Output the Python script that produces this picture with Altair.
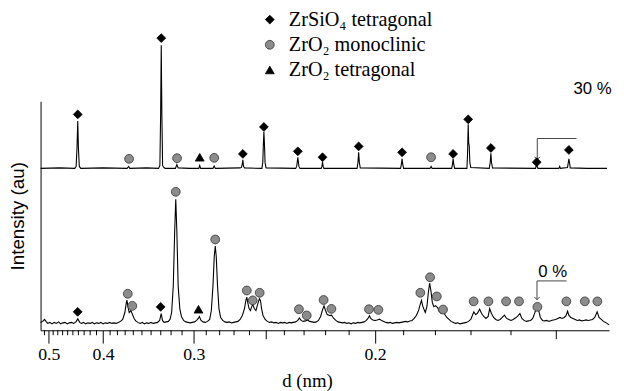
import altair as alt
import pandas as pd

# ---------------- data (x = 1/d in nm^-1, intensity in arbitrary units) -------------
# 0 % pattern (lower trace)
bottom_pattern = [
    (1.925, 8), (1.945, 9), (1.961, 11), (1.975, 9), (1.99, 7), (2.01, 8), (2.03, 6.5), (2.05, 8),
    (2.07, 7), (2.09, 8.5), (2.11, 6.5), (2.13, 7.5), (2.15, 8), (2.17, 6.5), (2.19, 7.5), (2.21, 8),
    (2.23, 7), (2.25, 8.5), (2.267, 11.5), (2.285, 8), (2.30, 7), (2.32, 8), (2.34, 6.5), (2.36, 7.5),
    (2.38, 7), (2.40, 8), (2.42, 6.5), (2.44, 7.5), (2.46, 7), (2.48, 8), (2.50, 6.5), (2.52, 7.5),
    (2.54, 7), (2.56, 8), (2.58, 7), (2.60, 7.5), (2.62, 7), (2.64, 8), (2.66, 9), (2.68, 11),
    (2.70, 18), (2.712, 27), (2.719, 30.5), (2.728, 24), (2.74, 18), (2.755, 20), (2.77, 16), (2.785, 12),
    (2.80, 9.5), (2.82, 8), (2.84, 7), (2.86, 8), (2.88, 6.5), (2.90, 7.5), (2.92, 7), (2.94, 8),
    (2.96, 7), (2.98, 7.5), (3.00, 8), (3.02, 10), (3.034, 17), (3.046, 10), (3.06, 8), (3.08, 8.5),
    (3.10, 9), (3.115, 11), (3.13, 18), (3.145, 45), (3.158, 100), (3.168, 132.7), (3.178, 100), (3.19, 45),
    (3.205, 22), (3.22, 14), (3.24, 10), (3.26, 8.5), (3.28, 8), (3.30, 7.5), (3.32, 8), (3.34, 8.5),
    (3.36, 10), (3.375, 12), (3.385, 14), (3.40, 10), (3.42, 8.5), (3.44, 8), (3.46, 9), (3.48, 11),
    (3.495, 20), (3.51, 45), (3.522, 75), (3.531, 85.3), (3.54, 75), (3.552, 45), (3.565, 22), (3.58, 13),
    (3.60, 10), (3.62, 8.5), (3.64, 8), (3.66, 8.5), (3.68, 7.5), (3.70, 8), (3.72, 8.5), (3.74, 9),
    (3.76, 11), (3.78, 15), (3.80, 22), (3.812, 30), (3.821, 33.7), (3.83, 28), (3.842, 22), (3.855, 20),
    (3.866, 24), (3.876, 26), (3.89, 22), (3.905, 20), (3.92, 26), (3.937, 32), (3.947, 30), (3.957, 22),
    (3.97, 15), (3.99, 11), (4.01, 9), (4.03, 8), (4.05, 8.5), (4.07, 7.5), (4.09, 8), (4.11, 7),
    (4.13, 8), (4.15, 7.5), (4.17, 8), (4.19, 7), (4.21, 8), (4.23, 7.5), (4.25, 8), (4.27, 8.5),
    (4.29, 10), (4.305, 12.5), (4.32, 10), (4.34, 9), (4.36, 9.5), (4.378, 10.5), (4.40, 9), (4.42, 8.5),
    (4.44, 8), (4.46, 8.5), (4.48, 10), (4.50, 14), (4.515, 20), (4.531, 24.7), (4.545, 20), (4.56, 16),
    (4.58, 15), (4.60, 15.3), (4.62, 12), (4.64, 10), (4.66, 8.5), (4.68, 8), (4.70, 7.5), (4.72, 8),
    (4.74, 7), (4.76, 7.5), (4.78, 6.5), (4.80, 7.5), (4.82, 7), (4.84, 8), (4.86, 7.5), (4.88, 8),
    (4.90, 8.5), (4.92, 10), (4.935, 12), (4.949, 14.7), (4.96, 12), (4.98, 10.5), (5.00, 10), (5.02, 10.5),
    (5.04, 11.3), (5.06, 10), (5.08, 9), (5.10, 8), (5.12, 7.5), (5.14, 8), (5.16, 7), (5.18, 7.5),
    (5.20, 8), (5.22, 7.5), (5.24, 8), (5.26, 8.5), (5.28, 9), (5.30, 8.5), (5.32, 9.5), (5.34, 10),
    (5.36, 12), (5.38, 15), (5.40, 20), (5.415, 26), (5.427, 30.3), (5.44, 24), (5.462, 18), (5.477, 24),
    (5.49, 38), (5.502, 47.7), (5.514, 40), (5.527, 28), (5.54, 24), (5.555, 25), (5.575, 23), (5.59, 19),
    (5.61, 17), (5.636, 17), (5.66, 13), (5.68, 11), (5.70, 9), (5.72, 8), (5.74, 7), (5.76, 7.5),
    (5.78, 6.5), (5.80, 7), (5.82, 7.5), (5.84, 8), (5.86, 9), (5.88, 11), (5.895, 15), (5.908, 18.7),
    (5.925, 16), (5.94, 17), (5.962, 21.3), (5.98, 17), (6.00, 14), (6.02, 12), (6.04, 14), (6.054, 22),
    (6.07, 17), (6.09, 13), (6.11, 11), (6.13, 10), (6.15, 11), (6.17, 13), (6.19, 15.3), (6.21, 12),
    (6.23, 11), (6.25, 10), (6.27, 11), (6.29, 12.5), (6.31, 14), (6.332, 17), (6.35, 12), (6.37, 10),
    (6.39, 9), (6.41, 9.5), (6.43, 10), (6.45, 12), (6.47, 18), (6.49, 24.7), (6.505, 20), (6.52, 13),
    (6.54, 10), (6.56, 9.5), (6.58, 10), (6.60, 9), (6.62, 10), (6.64, 10.5), (6.66, 11), (6.68, 12),
    (6.70, 13), (6.72, 12), (6.74, 13), (6.757, 15), (6.77, 19.3), (6.783, 15), (6.80, 13), (6.82, 12),
    (6.84, 11), (6.86, 10), (6.88, 10.5), (6.90, 9.5), (6.92, 10), (6.94, 10.5), (6.96, 10), (6.98, 10.5),
    (7.00, 11), (7.02, 13), (7.042, 18.7), (7.06, 13), (7.08, 11), (7.10, 9), (7.12, 8), (7.152, 5.5),
]

# 30 % pattern (upper trace, offset)
top_pattern = [
    (1.925, 164), (2.10, 164.5), (2.24, 164), (2.252, 166), (2.260, 185), (2.2668, 212), (2.273, 185),
    (2.281, 166), (2.295, 164), (2.50, 164.5), (2.72, 164), (2.735, 166), (2.745, 164), (2.90, 164.5),
    (3.010, 164), (3.022, 167), (3.029, 220), (3.0345, 288.7), (3.040, 220), (3.047, 167), (3.058, 165),
    (3.07, 164), (3.165, 164), (3.178, 168), (3.19, 164.5), (3.30, 164), (3.38, 164), (3.388, 167),
    (3.397, 164), (3.51, 164), (3.521, 166.5), (3.532, 164), (3.76, 164.5), (3.772, 165), (3.779, 168),
    (3.7849, 172.7), (3.791, 166), (3.80, 164.5), (3.96, 164), (3.968, 170), (3.974, 190), (3.9782, 201),
    (3.983, 190), (3.989, 170), (3.997, 165), (4.00, 164.5), (4.27, 164), (4.280, 166), (4.2903, 175.3),
    (4.300, 166), (4.31, 164), (4.505, 164), (4.512, 166), (4.5173, 170.3), (4.523, 166), (4.53, 164),
    (4.835, 164), (4.843, 170), (4.8494, 180.3), (4.856, 170), (4.864, 164.5), (5.235, 164), (5.242, 168),
    (5.2487, 173.7), (5.255, 168), (5.263, 164), (5.505, 164), (5.5155, 166), (5.525, 164), (5.705, 164),
    (5.712, 168), (5.7178, 173.7), (5.724, 168), (5.732, 164), (5.845, 164), (5.851, 180), (5.8566, 208.7),
    (5.861, 190), (5.866, 187), (5.872, 170), (5.88, 165), (6.05, 164), (6.059, 170), (6.0653, 179.3),
    (6.071, 170), (6.08, 164.5), (6.475, 164), (6.4864, 168), (6.497, 164), (6.69, 164), (6.6978, 166),
    (6.705, 164), (6.770, 165), (6.777, 170), (6.7822, 173.7), (6.788, 170), (6.795, 164.5), (6.95, 164),
    (7.133, 164),
]

# phase markers (x = 1/d, y = intensity)
zrsio4_tet = [
    (2.2668, 218.7), (3.0345, 296), (3.7849, 178.7), (3.9782, 206), (4.2903, 181.3), (4.5173, 175.3),
    (4.8494, 186.3), (5.2487, 180.3), (5.7178, 178.7), (5.8566, 213.7), (6.0653, 184.7), (6.4864, 170.3),
    (6.7822, 182.7), (2.266, 18.7), (3.029, 23.7),
]
zro2_mono = [
    (2.7386, 173.7), (3.1796, 174.3), (3.5218, 174.7), (5.5155, 175.3),
    (2.7268, 37), (2.7686, 24.7), (3.168, 140.3), (3.5308, 92), (3.8212, 40.3), (3.8757, 30.3),
    (3.9392, 38), (4.3003, 21.3), (4.372, 15), (4.5272, 30.7), (4.5989, 21.7), (4.9446, 21.3),
    (5.0308, 20.7), (5.4165, 38), (5.5064, 53.7), (5.5681, 34.3), (5.6253, 21), (5.9065, 29.3),
    (6.0426, 29.3), (6.2051, 29.3), (6.324, 29.3), (6.4928, 23.7), (6.7595, 29.3), (6.9292, 29.3),
    (7.0444, 29.3),
]
zro2_tet = [(3.3884, 175.3), (3.377, 21.3)]

phases = ["ZrSiO\u2084 tetragonal", "ZrO\u2082 monoclinic", "ZrO\u2082 tetragonal"]

# composition labels and arrows
labels = [("30 %", 7.0, 244), ("0 %", 6.634, 59)]
arrow_30 = [(6.852, 194.3), (6.4918, 194.3), (6.4918, 173)]
arrow_0 = [(6.7613, 50), (6.489, 50), (6.489, 31)]

# x-axis ticks (d in nm)
major_d = [0.5, 0.4, 0.3, 0.2]
medium_d = [0.25, 0.15]
minor_d = [0.51, 0.49, 0.48, 0.47, 0.46, 0.45, 0.44, 0.43, 0.42, 0.41, 0.39, 0.38, 0.37, 0.36,
           0.35, 0.34, 0.33, 0.32, 0.31, 0.29, 0.28, 0.27, 0.26, 0.24, 0.23, 0.22, 0.21, 0.19,
           0.18, 0.17, 0.16]

# ---------------- chart -------------
W, H = 576, 232
xs = alt.Scale(domain=[1.925, 7.152], nice=False, zero=False)
ys = alt.Scale(domain=[0, 232], nice=False, zero=False)

spec_df = pd.concat([
    pd.DataFrame(bottom_pattern, columns=["q", "i"]).assign(pattern="0 %"),
    pd.DataFrame(top_pattern, columns=["q", "i"]).assign(pattern="30 %"),
])

mk_df = pd.concat([
    pd.DataFrame(zrsio4_tet, columns=["q", "i"]).assign(phase=phases[0]),
    pd.DataFrame(zro2_mono, columns=["q", "i"]).assign(phase=phases[1]),
    pd.DataFrame(zro2_tet, columns=["q", "i"]).assign(phase=phases[2]),
])

arr_rows = []
for name, pts in (("a30", arrow_30), ("a0", arrow_0)):
    for k, (q, i) in enumerate(pts):
        arr_rows.append({"arrow": name, "k": k, "q": q, "i": i})
arr_df = pd.DataFrame(arr_rows)
head_df = arr_df[arr_df["k"] == 2]

lab_df = pd.DataFrame(labels, columns=["text", "q", "i"])

x_axis = alt.Axis(
    orient="bottom", values=[1 / d for d in major_d],
    labelExpr="format(1/datum.value, '.1f')",
    tickSize=13, tickColor="black", tickWidth=1,
    domainColor="black", domainWidth=1,
    labelFont="Liberation Serif", labelFontSize=18, labelColor="black", labelPadding=3,
    labelFlush=False, labelOverlap=False, grid=False,
    title="d (nm)", titleFont="Liberation Serif", titleFontSize=19, titleFontWeight="normal",
    titleColor="black", titleX=270, titleY=51, titleAlign="center", titleBaseline="middle",
)
y_axis = alt.Axis(
    ticks=False, labels=False, grid=False, domainColor="black", domainWidth=1,
    title="Intensity (au)", titleFont="Liberation Sans", titleFontSize=19, titleFontWeight="normal",
    titleColor="black", titleX=-23, titleY=116, titleAngle=270, titleAlign="center",
    titleBaseline="middle",
)
X = alt.X("q:Q", scale=xs, axis=x_axis)
Y = alt.Y("i:Q", scale=ys, axis=y_axis)

lines = alt.Chart(spec_df).mark_line(color="black", strokeWidth=1.1).encode(
    x=X, y=Y, detail="pattern:N", order="q:Q"
)

minor_ticks = alt.Chart(pd.DataFrame({"d": minor_d})).transform_calculate(
    q="1/datum.d"
).mark_rule(color="black", strokeWidth=1).encode(
    x=X, y=alt.value(H), y2=alt.value(H + 5)
)
medium_ticks = alt.Chart(pd.DataFrame({"d": medium_d})).transform_calculate(
    q="1/datum.d"
).mark_rule(color="black", strokeWidth=1).encode(
    x=X, y=alt.value(H), y2=alt.value(H + 9)
)

arrows = alt.Chart(arr_df).mark_line(color="#444444", strokeWidth=1).encode(
    x=X, y=Y, detail="arrow:N", order="k:Q"
)
heads = alt.Chart(head_df).mark_point(
    shape="M-1,-1L0,0L1,-1", size=30, color="#444444", filled=False, strokeWidth=1, opacity=1
).encode(x=X, y=Y)

leg = alt.Legend(
    title=None, orient="none", legendX=222, legendY=-93, direction="vertical",
    labelFont="Liberation Serif", labelFontSize=20.5, labelColor="black", labelLimit=0,
    symbolSize=80, rowPadding=4.5, labelOffset=9, padding=0, symbolStrokeWidth=0.8,
)
markers = alt.Chart(mk_df).mark_point(filled=True, size=80, strokeWidth=0.8, opacity=1).encode(
    x=X, y=Y,
    shape=alt.Shape("phase:N", scale=alt.Scale(domain=phases, range=["diamond", "circle", "triangle-up"]), legend=leg),
    fill=alt.Fill("phase:N", scale=alt.Scale(domain=phases, range=["#000000", "#8c8c8c", "#000000"]), legend=leg),
    stroke=alt.Stroke("phase:N", scale=alt.Scale(domain=phases, range=["#000000", "#333333", "#000000"]), legend=leg),
)

texts = alt.Chart(lab_df).mark_text(
    font="Liberation Sans", fontSize=17, color="black", align="center", baseline="middle"
).encode(x=X, y=Y, text="text:N")

chart = alt.layer(
    lines, minor_ticks, medium_ticks, arrows, heads, markers, texts
).properties(
    width=W, height=H,
    padding={"left": 33, "top": 92, "right": 7, "bottom": 59},
    autosize=alt.AutoSizeParams(type="none"),
).configure_view(strokeWidth=0)

chart.save("out.html", embed_options={"renderer": "svg", "actions": False})
